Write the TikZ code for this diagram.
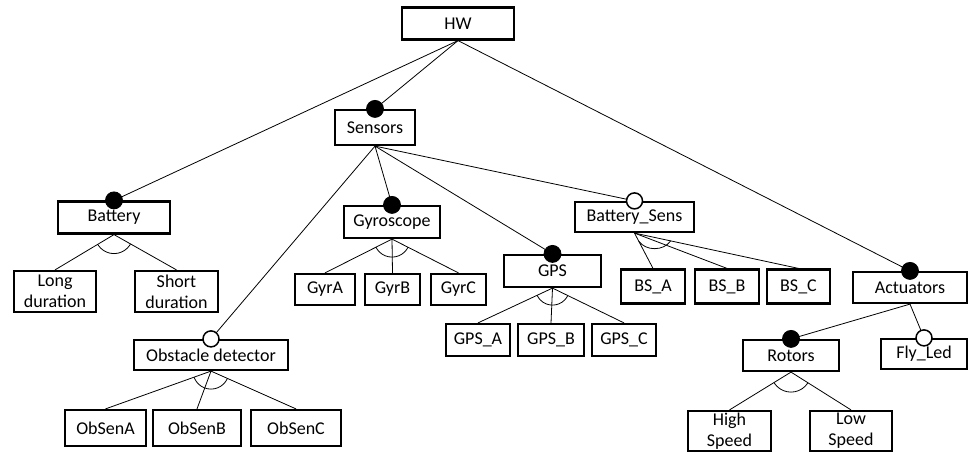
\documentclass[tikz,border=0pt]{standalone}
\usepackage{fontspec}
\setmainfont{Carlito}
\usetikzlibrary{calc}
\begin{document}
\begin{tikzpicture}[x=1pt,y=-1pt,
  feat/.style={draw, line width=2.2pt, fill=white, inner sep=0pt,
    font=\fontsize{18}{21}\selectfont, align=center},
  sz/.style 2 args={minimum width=#1pt, minimum height=#2pt},
  link/.style={line width=0.8pt},
  mand/.style={circle, fill=black, draw=black, line width=0.8pt,
    minimum size=17pt, inner sep=0pt},
  opt/.style={circle, fill=white, draw=black, line width=1.5pt,
    minimum size=16pt, inner sep=0pt},
  grouparc/.style={line width=0.8pt}]
\useasboundingbox (0,0) rectangle (971,455);

% features
\node[feat, sz={112}{32}] (hw)   at (458,23.5) {HW};
\node[feat, sz={80}{35}]  (sens) at (375,127.5) {Sensors};
\node[feat, sz={112}{32}] (bat)  at (114,217.5) {Battery};
\node[feat, sz={82}{41}]  (ld)   at (55,291.5) {Long\\duration};
\node[feat, sz={83}{41}]  (sd)   at (176.5,291.5) {Short\\duration};
\node[feat, sz={96}{32}]  (gyr)  at (392,222) {Gyroscope};
\node[feat, sz={60}{31}]  (gya)  at (325,289.5) {GyrA};
\node[feat, sz={55}{31}]  (gyb)  at (392.5,289.5) {GyrB};
\node[feat, sz={55}{31}]  (gyc)  at (458.5,289.5) {GyrC};
\node[feat, sz={97}{32}]  (gps)  at (552.5,271) {GPS};
\node[feat, sz={64}{32}]  (gpa)  at (478,340) {GPS\_A};
\node[feat, sz={66}{32}]  (gpb)  at (551,340) {GPS\_B};
\node[feat, sz={64}{32}]  (gpc)  at (624,340) {GPS\_C};
\node[feat, sz={119}{30}] (bsen) at (634.5,217) {Battery\_Sens};
\node[feat, sz={64}{34}]  (bsa)  at (653,286.5) {BS\_A};
\node[feat, sz={64}{34}]  (bsb)  at (727,286.5) {BS\_B};
\node[feat, sz={63}{34}]  (bsc)  at (798.5,286.5) {BS\_C};
\node[feat, sz={114}{31}] (act)  at (910,287.5) {Actuators};
\node[feat, sz={96}{31}]  (rot)  at (791,355.5) {Rotors};
\node[feat, sz={86}{30}]  (fly)  at (924,354) {Fly\_Led};
\node[feat, sz={83}{40}]  (hs)   at (729.5,431) {High\\Speed};
\node[feat, sz={82}{40}]  (ls)   at (851,431) {Low\\Speed};
\node[feat, sz={154}{30}] (obs)  at (211,355) {Obstacle detector};
\node[feat, sz={81}{36}]  (osa)  at (105.5,428) {ObSenA};
\node[feat, sz={88}{36}]  (osb)  at (197,428) {ObSenB};
\node[feat, sz={90}{36}]  (osc)  at (296,428) {ObSenC};

% parent-child links
\draw[link] (hw.south) -- (bat.north);
\draw[link] (hw.south) -- (sens.north);
\draw[link] (hw.south) -- (act.north);
\draw[link] (bat.south) -- (ld.north);
\draw[link] (bat.south) -- (sd.north);
\draw[link] (sens.south) -- (obs.north);
\draw[link] (sens.south) -- (gyr.north);
\draw[link] (sens.south) -- (gps.north);
\draw[link] (sens.south) -- (bsen.north);
\draw[link] (gyr.south) -- (gya.north);
\draw[link] (gyr.south) -- (gyb.north);
\draw[link] (gyr.south) -- (gyc.north);
\draw[link] (gps.south) -- (gpa.north);
\draw[link] (gps.south) -- (gpb.north);
\draw[link] (gps.south) -- (gpc.north);
\draw[link] (bsen.south) -- (bsa.north);
\draw[link] (bsen.south) -- (bsb.north);
\draw[link] (bsen.south) -- (bsc.north);
\draw[link] (act.south) -- (rot.north);
\draw[link] (act.south) -- (fly.north);
\draw[link] (rot.south) -- (hs.north);
\draw[link] (rot.south) -- (ls.north);
\draw[link] (obs.south) -- (osa.north);
\draw[link] (obs.south) -- (osb.north);
\draw[link] (obs.south) -- (osc.north);

% group arcs between the outer links of each group
\begin{scope}
  \clip (bat.south) -- (ld.north) -- (sd.north) -- cycle;
  \draw[grouparc] (bat.south) circle[radius=19pt];
\end{scope}
\begin{scope}
  \clip (gyr.south) -- (gya.north) -- (gyc.north) -- cycle;
  \draw[grouparc] (gyr.south) circle[radius=18pt];
\end{scope}
\begin{scope}
  \clip (gps.south) -- (gpa.north) -- (gpc.north) -- cycle;
  \draw[grouparc] (gps.south) circle[radius=17pt];
\end{scope}
\draw[grouparc] ($(bsen.south)!9pt!(bsa.north)$)
  to[bend right=55] ($(bsen.south)!37pt!(bsc.north)$);
\begin{scope}
  \clip (rot.south) -- (hs.north) -- (ls.north) -- cycle;
  \draw[grouparc] (rot.south) circle[radius=20pt];
\end{scope}
\begin{scope}
  \clip (obs.south) -- (osa.north) -- (osc.north) -- cycle;
  \draw[grouparc] (obs.south) circle[radius=18pt];
\end{scope}

% mandatory / optional markers
\node[mand] (sensm) at (sens.north) {};
\node[mand] (batm)  at (bat.north) {};
\node[mand] (gyrm)  at (gyr.north) {};
\node[mand] (gpsm)  at (gps.north) {};
\node[mand] (actm)  at (act.north) {};
\node[mand] (rotm)  at (rot.north) {};
\node[opt]  (bseno) at (bsen.north) {};
\node[opt]  (obso)  at (obs.north) {};
\node[opt]  (flyo)  at (fly.north) {};
\end{tikzpicture}
\end{document}
